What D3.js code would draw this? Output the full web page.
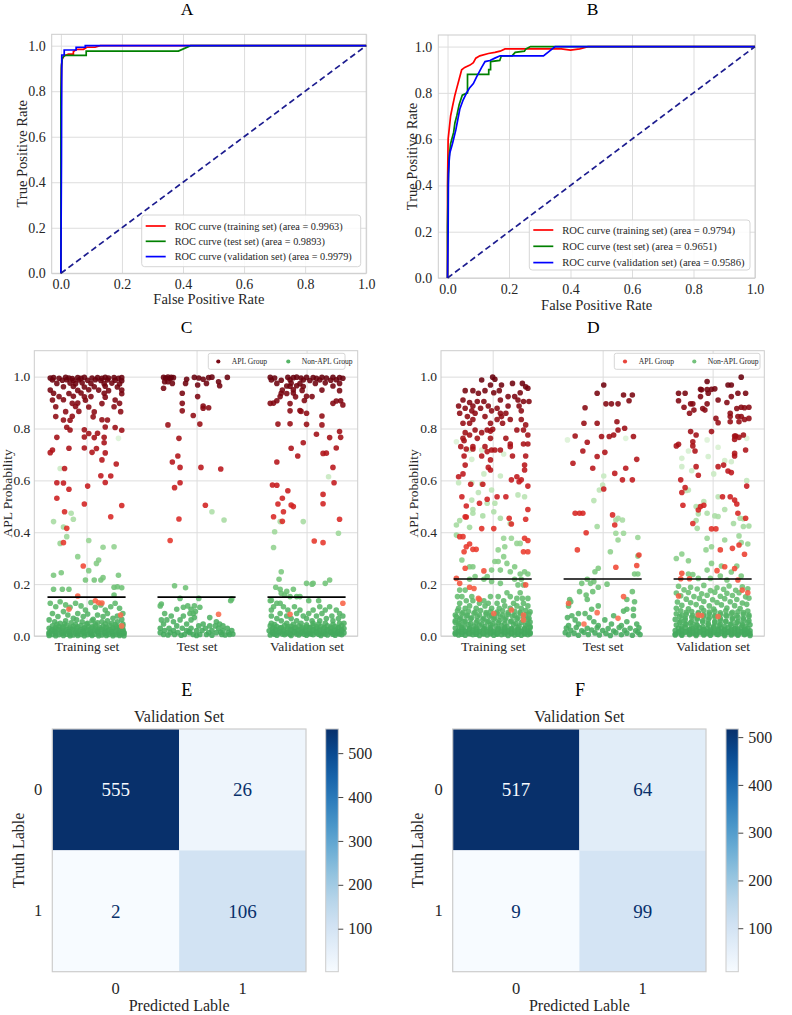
<!DOCTYPE html>
<html>
<head>
<meta charset="utf-8">
<script src="https://cdn.jsdelivr.net/npm/d3@7"></script>
<style>
  body { margin: 0; background: #fff; }
  text { font-family: "Liberation Serif", "Times New Roman", serif; }
</style>
</head>
<body>
<svg id="fig" width="792" height="1015"></svg>
<script>
// ---------- ROC data ----------
const rocTicks = [0, 0.2, 0.4, 0.6, 0.8, 1.0];
const rocColors = ["#ff0000", "#008000", "#0000ff"];
const rocLegendA = ["ROC curve (training set) (area = 0.9963)", "ROC curve (test set) (area = 0.9893)", "ROC curve (validation set) (area = 0.9979)"];
const rocLegendB = ["ROC curve (training set) (area = 0.9794)", "ROC curve (test set) (area = 0.9651)", "ROC curve (validation set) (area = 0.9586)"];

const rocATrain = [[0,0],[0,0.57],[0.002,0.9],[0.004,0.94],[0.01,0.955],[0.025,0.963],[0.041,0.963],[0.041,0.974],[0.052,0.984],[0.074,0.984],[0.085,0.993],[0.112,0.993],[0.129,1.0],[1,1]];
const rocATest = [[0,0],[0,0.77],[0.002,0.915],[0.005,0.945],[0.012,0.957],[0.083,0.957],[0.083,0.976],[0.385,0.976],[0.425,1.0],[1,1]];
const rocAValid = [[0,0],[0.002,0.5],[0.003,0.959],[0.011,0.959],[0.011,0.981],[0.05,0.981],[0.05,0.993],[0.08,0.993],[0.08,1.0],[1,1]];

const rocBTrain = [[0,0],[0,0.4],[0.002,0.6],[0.01,0.7],[0.016,0.74],[0.024,0.79],[0.029,0.815],[0.038,0.86],[0.046,0.9],[0.056,0.91],[0.073,0.92],[0.084,0.93],[0.092,0.95],[0.105,0.96],[0.133,0.97],[0.154,0.975],[0.171,0.98],[0.187,0.99],[0.37,0.99],[0.4,0.985],[0.43,0.99],[0.457,1.0],[1,1]];
const rocBTest = [[0,0],[0,0.22],[0.002,0.4],[0.005,0.52],[0.01,0.58],[0.02,0.63],[0.024,0.67],[0.03,0.7],[0.038,0.75],[0.048,0.79],[0.065,0.8],[0.065,0.88],[0.134,0.88],[0.134,0.9],[0.14,0.9],[0.14,0.935],[0.17,0.94],[0.175,0.96],[0.21,0.96],[0.22,0.975],[0.25,0.98],[0.255,0.99],[0.27,1.0],[1,1]];
const rocBValid = [[0,0],[0.002,0.2],[0.003,0.45],[0.005,0.5],[0.0075,0.54],[0.016,0.58],[0.027,0.64],[0.04,0.73],[0.051,0.77],[0.062,0.8],[0.071,0.82],[0.084,0.84],[0.095,0.87],[0.111,0.91],[0.122,0.935],[0.138,0.94],[0.154,0.95],[0.171,0.96],[0.312,0.96],[0.35,1.0],[1,1]];

// ---------- strip plot data: [jitter, probability] ----------
const stripSets = ["Training set", "Test set", "Validation set"];
const stripTicks = [0, 0.2, 0.4, 0.6, 0.8, 1.0];
const thresholdC = 0.15;
const thresholdD = 0.22;

const cTrainApl = [[-0.33,0.995],[-0.30,0.996],[-0.25,0.994],[-0.19,0.997],[-0.16,0.995],[-0.13,0.993],[-0.08,0.996],[-0.05,0.994],[-0.02,0.997],[0.05,0.995],[0.10,0.996],[0.14,0.994],[0.17,0.997],[0.20,0.995],[0.25,0.996],[0.29,0.994],[0.32,0.996],
[-0.31,0.987],[-0.22,0.986],[-0.18,0.988],[-0.12,0.985],[-0.07,0.987],[0.01,0.986],[0.08,0.988],[0.13,0.985],[0.19,0.987],[0.26,0.986],[0.32,0.984],
[-0.27,0.974],[-0.15,0.975],[-0.10,0.973],[-0.04,0.976],[0.04,0.974],[0.16,0.973],[0.23,0.975],[0.30,0.972],
[-0.21,0.961],[-0.12,0.962],[-0.02,0.96],[0.07,0.961],[0.17,0.963],[0.28,0.96],
[-0.33,0.948],[-0.08,0.947],[0.02,0.949],[0.11,0.948],[0.20,0.946],[0.32,0.948],
[-0.30,0.936],[-0.16,0.935],[-0.05,0.937],[0.16,0.936],[0.32,0.934],
[-0.25,0.923],[-0.12,0.924],[-0.02,0.922],[0.04,0.923],[0.17,0.921],
[-0.31,0.91],[-0.21,0.911],[-0.01,0.909],[0.26,0.91],
[-0.13,0.897],[-0.08,0.898],[0.14,0.896],[0.30,0.897],
[-0.28,0.884],[-0.10,0.885],[0.02,0.883],[0.25,0.884],
[-0.19,0.865],[-0.07,0.866],[0.07,0.864],[0.31,0.865],
[-0.28,0.846],[-0.13,0.847],[0.06,0.845],
[-0.21,0.833],[-0.15,0.832],[0.14,0.834],[0.19,0.833],
[-0.18,0.805],[0.17,0.806],[0.26,0.804],
[-0.15,0.794],[-0.02,0.795],[0.32,0.793],
[0.02,0.781],[0.10,0.782],
[-0.27,0.766],[-0.02,0.767],[0.07,0.765],[0.16,0.766],
[0.16,0.745],[-0.16,0.724],[-0.02,0.725],[0.09,0.723],[-0.31,0.717],[-0.33,0.707],[0.05,0.708],[0.17,0.706],
[0.14,0.679],[0.27,0.663],[-0.20,0.646],[0.13,0.618],[0.22,0.617],[-0.27,0.591],[-0.21,0.59],[0.17,0.592],[0.01,0.578],[-0.16,0.566],[-0.27,0.531],[-0.02,0.509],[0.32,0.503],[-0.20,0.479],[0.22,0.46],[-0.18,0.415],[-0.21,0.36],[-0.03,0.27],[-0.08,0.154],[0.08,0.136],[0.11,0.128],[0.14,0.127],[-0.16,0.103],[0.31,0.081],[0.32,0.039]];

const cTrainNon = [[0.29,0.762],[-0.24,0.646],[-0.14,0.473],[-0.12,0.45],[-0.30,0.441],[-0.21,0.42],[-0.18,0.383],[0.02,0.368],[-0.24,0.357],[0.25,0.344],[0.15,0.342],[-0.08,0.306],[0.11,0.293],[0.09,0.28],[0.02,0.252],[-0.23,0.244],[-0.30,0.234],[0.29,0.234],[0.15,0.225],[-0.01,0.216],[0.07,0.216],[0.13,0.216],[0.25,0.188],[0.28,0.19],[0.32,0.186],[-0.30,0.18],[-0.22,0.18],[-0.16,0.18],[0.25,0.158],
[-0.33,0.126],[-0.28,0.113],[-0.24,0.132],[-0.19,0.12],[-0.15,0.111],[-0.10,0.126],[-0.05,0.116],[-0.01,0.1],[0.04,0.129],[0.08,0.111],[0.13,0.12],[0.17,0.1],[0.22,0.113],[0.26,0.126],[0.30,0.107],[0.33,0.087],
[-0.31,0.087],[-0.26,0.075],[-0.21,0.094],[-0.17,0.081],[-0.12,0.068],[-0.08,0.087],[-0.03,0.075],[0.01,0.085],[0.06,0.064],[0.10,0.081],[0.15,0.075],[0.19,0.087],[0.24,0.068],[0.28,0.077],
[-0.34,0.062],[-0.29,0.055],[-0.24,0.049],[-0.19,0.059],[-0.14,0.051],[-0.09,0.062],[-0.04,0.055],[0.01,0.049],[0.05,0.059],[0.10,0.051],[0.14,0.055],[0.19,0.059],[0.23,0.049],[0.28,0.055],[0.32,0.064],
[-0.27,0.045],[-0.2,0.047],[-0.1,0.044],[0.0,0.046],[0.08,0.045],[0.17,0.047],[0.26,0.044],[0.33,0.046],
[-0.31,0.039],[-0.25,0.036],[-0.18,0.041],[-0.12,0.037],[-0.05,0.04],[0.02,0.035],[0.08,0.039],[0.15,0.037],[0.21,0.041],[0.27,0.036],[0.33,0.039],
[-0.28,0.034],[-0.21,0.035],[-0.15,0.033],[-0.08,0.035],[-0.02,0.032],[0.05,0.035],[0.12,0.033],[0.18,0.034],[0.24,0.032],[0.30,0.035],
[-0.34,0.03],[-0.28,0.028],[-0.22,0.031],[-0.15,0.027],[-0.09,0.03],[-0.02,0.029],[0.05,0.031],[0.11,0.027],[0.17,0.03],[0.24,0.028],[0.30,0.031],
[-0.31,0.025],[-0.25,0.026],[-0.18,0.024],[-0.12,0.026],[-0.05,0.025],[0.02,0.024],[0.08,0.026],[0.14,0.025],[0.21,0.024],[0.27,0.026],[0.33,0.025],
[-0.32,0.021],[-0.26,0.023],[-0.19,0.02],[-0.13,0.022],[-0.06,0.019],[0.0,0.022],[0.07,0.02],[0.13,0.023],[0.2,0.021],[0.26,0.019],[0.33,0.022],
[-0.29,0.017],[-0.22,0.018],[-0.16,0.016],[-0.09,0.018],[-0.03,0.017],[0.04,0.016],[0.1,0.018],[0.17,0.017],[0.23,0.016],[0.3,0.018],
[-0.34,0.013],[-0.29,0.015],[-0.23,0.012],[-0.16,0.014],[-0.1,0.011],[-0.03,0.014],[0.03,0.012],[0.1,0.015],[0.16,0.012],[0.22,0.014],[0.29,0.011],[0.34,0.013],
[-0.34,0.009],[-0.28,0.009],[-0.21,0.01],[-0.15,0.008],[-0.08,0.009],[-0.02,0.01],[0.04,0.008],[0.11,0.009],[0.17,0.01],[0.24,0.008],[0.3,0.009],[0.34,0.01],
[-0.31,0.006],[-0.25,0.005],[-0.18,0.007],[-0.12,0.004],[-0.05,0.006],[0.01,0.005],[0.07,0.007],[0.14,0.004],[0.2,0.006],[0.27,0.005],[0.32,0.007],
[-0.34,0.002],[-0.28,0.001],[-0.21,0.002],[-0.15,0.001],[-0.08,0.002],[-0.02,0.001],[0.05,0.002],[0.11,0.001],[0.18,0.002],[0.24,0.001],[0.3,0.002],[0.34,0.001]];

const cTestApl = [[-0.30,0.997],[-0.28,0.995],[-0.26,0.998],[-0.24,0.993],[-0.23,0.997],[-0.21,0.996],[-0.02,0.997],[0.02,0.995],[0.11,0.996],[0.14,0.998],[0.28,0.997],
[-0.09,0.99],[0.06,0.99],[-0.29,0.98],[-0.26,0.98],[0.20,0.98],[-0.22,0.974],[-0.10,0.974],[0.09,0.974],[0.01,0.968],[0.21,0.965],[-0.30,0.955],
[-0.13,0.936],[0.01,0.923],[-0.13,0.897],[0.06,0.887],[0.11,0.88],[0.06,0.878],[-0.13,0.868],[-0.03,0.85],[0.03,0.817],[-0.26,0.814],[-0.16,0.762],[-0.17,0.694],[-0.22,0.671],[-0.15,0.65],[0.04,0.65],[0.22,0.644],[-0.15,0.591],[-0.20,0.572],[0.08,0.504],[-0.16,0.451],[-0.24,0.368],[0.20,0.084]];

const cTestNon = [[0.14,0.479],[0.25,0.447],[-0.20,0.194],[-0.10,0.186],[-0.15,0.145],[0.02,0.145],[0.32,0.143],[0.31,0.136],[-0.32,0.123],[-0.33,0.116],[-0.08,0.116],[-0.02,0.116],[-0.12,0.111],[0.03,0.111],[-0.18,0.103],[-0.05,0.103],[-0.01,0.094],[-0.29,0.087],[-0.06,0.087],[-0.03,0.087],[-0.23,0.077],[-0.12,0.077],[-0.02,0.071],[0.12,0.071],[-0.32,0.062],[-0.27,0.062],[-0.15,0.062],[-0.05,0.062],[-0.21,0.055],[0.18,0.055],[-0.30,0.046],[-0.09,0.046],[0.06,0.046],[0.21,0.046],[-0.18,0.039],[0.02,0.039],[0.12,0.039],[0.17,0.039],[0.24,0.039],
[-0.33,0.03],[-0.25,0.03],[-0.13,0.03],[-0.05,0.03],[0.08,0.03],[0.20,0.03],[0.28,0.03],[-0.29,0.021],[-0.21,0.021],[-0.09,0.021],[0.0,0.021],[0.05,0.021],[0.14,0.021],[0.24,0.021],[0.32,0.021],[-0.07,0.016],[0.22,0.014],
[-0.33,0.013],[-0.24,0.013],[-0.17,0.013],[-0.06,0.013],[0.11,0.013],[0.18,0.013],[0.29,0.013],[0.33,0.008],[-0.30,0.006],[-0.20,0.006],[-0.11,0.006],[-0.03,0.006],[0.03,0.006],[0.09,0.006],[0.23,0.006],[0.30,0.006],[-0.26,0.004],[-0.14,0.003],[0.0,0.002],[0.14,0.003],[0.26,0.004]];

const cValApl = [[-0.33,0.997],[-0.29,0.995],[-0.17,0.997],[-0.12,0.996],[-0.09,0.998],[-0.05,0.995],[0,0.997],[0.06,0.996],[0.09,0.994],[0.14,0.997],[0.18,0.995],[0.24,0.997],[0.30,0.996],[0.33,0.994],
[-0.32,0.987],[-0.23,0.986],[-0.15,0.988],[-0.03,0.987],[0.03,0.985],[0.12,0.987],[0.22,0.986],[0.27,0.988],
[-0.27,0.974],[-0.14,0.975],[-0.06,0.973],[0.08,0.974],[0.17,0.976],[0.30,0.974],
[-0.18,0.964],[-0.15,0.963],[-0.09,0.965],[-0.03,0.962],[0.24,0.964],
[-0.22,0.948],[-0.12,0.949],[-0.04,0.947],[0.14,0.948],[0.30,0.946],
[-0.23,0.936],[-0.18,0.935],[-0.12,0.937],[-0.24,0.923],[-0.10,0.922],[0,0.924],[0.05,0.923],
[-0.27,0.907],[-0.02,0.908],[0.27,0.906],[0.31,0.907],[-0.33,0.897],[-0.30,0.898],[-0.15,0.896],[0.24,0.897],[0.33,0.891],
[-0.15,0.868],[-0.06,0.869],[-0.05,0.866],[0,0.859],[0.14,0.848],[-0.26,0.817],[-0.15,0.818],[0,0.816],[0.14,0.814],[0.30,0.788],[0.09,0.778],[0.21,0.765],[0.31,0.766],[-0.03,0.745],[-0.14,0.724],[0.27,0.725],[0.15,0.704],[0.18,0.705],[-0.08,0.694],[-0.27,0.671],[0.24,0.65],[0.25,0.591],[-0.31,0.582],[-0.27,0.581],[-0.17,0.56],[0.15,0.546],[-0.22,0.531],[-0.26,0.509],[0.15,0.51],[-0.14,0.505],[-0.12,0.499],[-0.21,0.479],[-0.30,0.46],[0.30,0.45],[-0.22,0.442],[0.07,0.366],[0.15,0.36],[0.33,0.126],[-0.15,0.084]];

const cValNon = [[0.20,0.614],[-0.24,0.441],[-0.03,0.441],[-0.29,0.402],[0.29,0.396],[-0.30,0.341],[-0.23,0.248],[-0.25,0.219],[0.21,0.216],[0,0.203],[0.06,0.203],[0.17,0.203],[0.05,0.2],[-0.28,0.188],[-0.24,0.18],[-0.12,0.18],[-0.18,0.172],[-0.23,0.165],[-0.20,0.158],[-0.15,0.152],[-0.09,0.152],[-0.06,0.152],
[-0.33,0.136],[-0.32,0.138],[0.11,0.136],[0.02,0.136],[-0.27,0.126],[-0.24,0.126],[-0.30,0.113],[-0.21,0.113],[-0.11,0.113],[0.12,0.113],[0.21,0.113],[-0.32,0.10],[-0.17,0.10],[-0.06,0.10],[0.06,0.10],[0.17,0.10],[0.27,0.10],[-0.24,0.087],[-0.09,0.087],[0.02,0.087],[0.14,0.087],[0.30,0.087],[-0.32,0.077],[-0.18,0.077],[-0.03,0.077],[0.09,0.077],[0.23,0.077],[0.33,0.077],[-0.27,0.067],[-0.14,0.067],[0,0.067],[0.18,0.067],[0.29,0.067],[-0.23,0.059],[-0.09,0.059],[0.05,0.059],[0.12,0.059],[0.24,0.059],[-0.32,0.049],[-0.18,0.049],[-0.05,0.049],[0.06,0.049],[0.17,0.049],[0.30,0.049],[0.34,0.049],
[-0.29,0.044],[-0.12,0.045],[0.0,0.043],[0.11,0.046],[0.24,0.044],
[-0.33,0.039],[-0.27,0.036],[-0.2,0.04],[-0.14,0.037],[-0.07,0.039],[0.0,0.035],[0.06,0.04],[0.13,0.037],[0.19,0.039],[0.26,0.036],[0.32,0.04],
[-0.3,0.034],[-0.23,0.033],[-0.17,0.035],[-0.1,0.033],[-0.04,0.034],[0.03,0.033],[0.09,0.035],[0.16,0.033],[0.22,0.034],[0.29,0.033],
[-0.31,0.029],[-0.24,0.031],[-0.17,0.028],[-0.11,0.03],[-0.04,0.028],[0.03,0.031],[0.09,0.029],[0.16,0.03],[0.22,0.028],[0.29,0.031],[0.34,0.029],
[-0.28,0.025],[-0.21,0.024],[-0.14,0.026],[-0.07,0.024],[-0.01,0.025],[0.06,0.024],[0.12,0.026],[0.19,0.024],[0.26,0.025],[0.32,0.024],
[-0.34,0.02],[-0.28,0.021],[-0.21,0.019],[-0.14,0.022],[-0.08,0.02],[-0.01,0.018],[0.06,0.021],[0.12,0.019],[0.19,0.022],[0.25,0.02],[0.32,0.019],
[-0.31,0.015],[-0.24,0.016],[-0.17,0.014],[-0.11,0.016],[-0.04,0.015],[0.03,0.014],[0.09,0.016],[0.16,0.015],[0.22,0.014],[0.29,0.016],
[-0.31,0.011],[-0.25,0.012],[-0.18,0.01],[-0.11,0.013],[-0.05,0.011],[0.02,0.01],[0.09,0.012],[0.15,0.01],[0.22,0.013],[0.28,0.011],[0.34,0.012],
[-0.29,0.007],[-0.22,0.008],[-0.15,0.007],[-0.09,0.008],[-0.02,0.007],[0.04,0.008],[0.11,0.007],[0.17,0.008],[0.24,0.007],[0.3,0.008],
[-0.33,0.004],[-0.27,0.003],[-0.2,0.005],[-0.14,0.002],[-0.07,0.004],[0.0,0.003],[0.06,0.005],[0.13,0.002],[0.19,0.004],[0.26,0.003],[0.32,0.005]];

const dTrainApl = [[0,0.998],[0.02,0.99],[-0.10,0.987],[0.18,0.974],[0.27,0.974],[0.08,0.968],[-0.02,0.968],[0.30,0.961],[0.32,0.955],
[-0.25,0.946],[-0.18,0.946],[-0.07,0.946],[0.06,0.946],[0.01,0.938],[0.25,0.938],[-0.13,0.936],[0.14,0.923],[0.20,0.923],
[-0.27,0.91],[0.07,0.91],[0.23,0.91],[-0.14,0.904],[-0.08,0.904],[0.28,0.904],[0.33,0.904],[-0.21,0.90],
[-0.31,0.887],[-0.18,0.887],[-0.04,0.887],[0.14,0.887],[0.24,0.887],[-0.25,0.878],[-0.11,0.878],[0.04,0.878],[-0.19,0.868],[-0.01,0.868],[0.26,0.868],
[-0.30,0.859],[-0.16,0.859],[0.07,0.859],[0.12,0.859],[-0.23,0.846],[-0.07,0.846],[0.08,0.846],[-0.18,0.835],[0.04,0.835],[0.16,0.835],[0.26,0.835],
[-0.27,0.82],[-0.21,0.82],[-0.02,0.82],[0.09,0.82],[0.30,0.814],[-0.16,0.794],[-0.05,0.794],[-0.02,0.79],[0,0.797],[0.22,0.794],[0.28,0.794],[-0.10,0.784],[-0.25,0.784],
[-0.21,0.775],[0.32,0.775],[-0.27,0.762],[-0.14,0.762],[-0.02,0.762],[0.12,0.762],[-0.26,0.753],[0.16,0.74],[0.28,0.74],[0.32,0.74],
[-0.29,0.73],[-0.18,0.73],[-0.07,0.73],[0.16,0.73],[-0.24,0.721],[-0.18,0.721],[-0.01,0.717],[0.02,0.717],[0.07,0.717],[-0.05,0.711],
[-0.26,0.694],[-0.10,0.694],[0.18,0.694],[0.30,0.694],[-0.02,0.679],[-0.25,0.659],[0.29,0.659],[-0.04,0.65],[-0.02,0.64],[0.29,0.64],[-0.27,0.625],[-0.31,0.614],[0.22,0.614],[0.17,0.602],[0.26,0.602],[0.24,0.595],[-0.20,0.585],[-0.09,0.585],[0.32,0.578],
[-0.28,0.537],[0.04,0.537],[0.12,0.537],[-0.05,0.527],[-0.12,0.512],[-0.24,0.501],[0.32,0.488],[-0.25,0.46],[-0.24,0.459],[0.15,0.454],[0.30,0.45],[0.17,0.432],[-0.10,0.414],[0.01,0.414],
[-0.30,0.383],[-0.27,0.383],[0.29,0.377],[0.32,0.368],[-0.21,0.355],[-0.24,0.344],[-0.15,0.334],[-0.18,0.334],[0.28,0.325],[0.32,0.325],[-0.26,0.325],
[-0.25,0.261],[-0.08,0.251],[-0.33,0.222],[-0.30,0.203],[0.30,0.197],[-0.21,0.188],[-0.17,0.183],[-0.13,0.145],[-0.12,0.141],[0.17,0.1],[0.01,0.087],[0.28,0.081],[0.28,0.062]];

const dTrainNon = [[-0.33,0.749],[-0.21,0.717],[-0.10,0.717],[0.10,0.702],[-0.19,0.681],[-0.08,0.625],[0.07,0.617],[-0.31,0.591],[-0.19,0.591],[-0.10,0.586],[-0.01,0.563],[-0.13,0.553],[0.23,0.544],[0.29,0.537],[-0.19,0.524],[-0.05,0.512],[0.02,0.512],[-0.18,0.488],[0.01,0.479],[-0.18,0.473],[-0.09,0.463],[0.07,0.454],[-0.30,0.445],[0.16,0.434],[-0.33,0.428],[-0.21,0.419],
[-0.33,0.389],[0.10,0.377],[0.17,0.377],[0.22,0.357],[0.25,0.357],[0.11,0.344],[0.05,0.332],[0.10,0.306],[-0.28,0.293],[0.02,0.287],[0.05,0.287],[0.13,0.28],[-0.21,0.267],[-0.18,0.267],[0.20,0.267],[-0.01,0.254],[0.07,0.254],[0.16,0.248],[0.29,0.248],[0.32,0.239],[0.25,0.239],[-0.16,0.229],[-0.05,0.229],[-0.21,0.219],[-0.08,0.219],[0.20,0.219],[0.26,0.219],[-0.01,0.21],[0.07,0.203],[0.23,0.197],[0.28,0.197],
[-0.30,0.177],[-0.25,0.177],[0.13,0.167],[0.25,0.167],[-0.32,0.152],[-0.28,0.152],[-0.19,0.152],[-0.02,0.152],[0.05,0.152],[0.16,0.152],[0.27,0.145],[0.32,0.145],[0.22,0.145],[-0.24,0.136],[-0.18,0.136],[-0.08,0.136],[0.10,0.136],
[-0.30,0.126],[-0.12,0.126],[-0.04,0.126],[0.04,0.126],[0.19,0.126],[0.28,0.126],[-0.21,0.116],[-0.07,0.116],[0.11,0.116],[0.22,0.116],[0.32,0.116],[-0.31,0.107],[-0.25,0.107],[-0.15,0.107],[-0.01,0.107],[0.06,0.107],[0.16,0.107],[0.26,0.107],
[-0.32,0.097],[-0.22,0.095],[-0.11,0.098],[-0.02,0.094],[0.09,0.097],[0.2,0.095],[0.3,0.098],
[-0.27,0.091],[-0.16,0.092],[-0.06,0.09],[0.04,0.092],[0.14,0.09],[0.25,0.091],[0.34,0.093],
[-0.28,0.086],[-0.17,0.088],[-0.06,0.085],[0.04,0.087],[0.14,0.084],[0.25,0.088],[0.33,0.085],
[-0.34,0.081],[-0.23,0.08],[-0.12,0.081],[-0.01,0.079],[0.09,0.081],[0.2,0.08],[0.3,0.082],
[-0.33,0.075],[-0.24,0.077],[-0.14,0.074],[-0.03,0.076],[0.07,0.073],[0.18,0.077],[0.28,0.075],
[-0.29,0.069],[-0.19,0.07],[-0.08,0.068],[0.02,0.07],[0.12,0.069],[0.23,0.07],[0.33,0.068],
[-0.3,0.064],[-0.2,0.066],[-0.09,0.063],[0.01,0.065],[0.11,0.062],[0.22,0.066],[0.32,0.063],
[-0.34,0.059],[-0.25,0.058],[-0.14,0.059],[-0.04,0.057],[0.06,0.059],[0.17,0.058],[0.28,0.06],
[-0.34,0.053],[-0.26,0.055],[-0.15,0.052],[-0.05,0.054],[0.05,0.051],[0.16,0.055],[0.26,0.052],[0.34,0.054],
[-0.3,0.047],[-0.2,0.048],[-0.1,0.046],[0.0,0.048],[0.11,0.047],[0.21,0.048],[0.32,0.046],
[-0.31,0.042],[-0.22,0.044],[-0.12,0.041],[-0.02,0.043],[0.08,0.04],[0.19,0.044],[0.3,0.041],
[-0.26,0.037],[-0.17,0.038],[-0.07,0.036],[0.03,0.038],[0.13,0.037],[0.24,0.038],[0.34,0.036],
[-0.34,0.031],[-0.28,0.033],[-0.21,0.03],[-0.15,0.032],[-0.08,0.029],[-0.02,0.033],[0.05,0.03],[0.11,0.032],[0.17,0.029],[0.23,0.033],[0.29,0.03],[0.34,0.032],
[-0.28,0.026],[-0.21,0.027],[-0.15,0.025],[-0.08,0.027],[-0.02,0.026],[0.05,0.025],[0.11,0.027],[0.17,0.026],[0.23,0.025],[0.29,0.027],
[-0.31,0.021],[-0.25,0.019],[-0.18,0.022],[-0.12,0.02],[-0.05,0.023],[0.01,0.019],[0.08,0.022],[0.14,0.02],[0.2,0.023],[0.26,0.019],[0.32,0.022],
[-0.31,0.016],[-0.25,0.017],[-0.18,0.015],[-0.12,0.017],[-0.05,0.016],[0.01,0.015],[0.08,0.017],[0.14,0.016],[0.2,0.015],[0.26,0.017],[0.32,0.016],
[-0.34,0.012],[-0.28,0.014],[-0.22,0.011],[-0.15,0.013],[-0.09,0.01],[-0.02,0.013],[0.04,0.011],[0.11,0.014],[0.17,0.01],[0.23,0.013],[0.29,0.011],[0.34,0.013],
[-0.34,0.008],[-0.28,0.007],[-0.21,0.009],[-0.15,0.007],[-0.08,0.008],[-0.02,0.009],[0.04,0.007],[0.11,0.008],[0.17,0.009],[0.23,0.007],[0.29,0.008],[0.34,0.009],
[-0.31,0.004],[-0.25,0.003],[-0.18,0.005],[-0.12,0.002],[-0.05,0.004],[0.01,0.003],[0.08,0.005],[0.14,0.002],[0.2,0.004],[0.26,0.003],[0.32,0.005]];

const dTestApl = [[0.01,0.968],[-0.05,0.936],[0.19,0.929],[0.27,0.929],[0.24,0.907],[0.03,0.895],[0.08,0.895],[0.14,0.895],[-0.16,0.88],[0.13,0.826],[-0.17,0.82],[-0.05,0.82],[0.20,0.801],[0.14,0.794],[0.10,0.775],[-0.25,0.771],[-0.01,0.769],[0.06,0.769],[0.28,0.769],[-0.14,0.747],[-0.18,0.713],[0.02,0.708],[-0.05,0.692],[0.31,0.681],[-0.27,0.666],[-0.09,0.647],[0.21,0.647],[0.11,0.627],[0.18,0.602],[0.27,0.602],[0.01,0.567],[-0.25,0.473],[-0.21,0.473],[-0.18,0.473],[0.09,0.467],[0.11,0.428],[-0.15,0.398],[-0.23,0.332],[0.33,0.312],[0.31,0.272],[0.12,0.265],[0.19,0.152],[-0.31,0.126],[0.14,0.068],[-0.17,0.046],[-0.05,0.09]];

const dTestNon = [[-0.32,0.756],[0.21,0.762],[0.01,0.617],[0.0,0.582],[-0.03,0.563],[-0.08,0.522],[0.14,0.454],[0.12,0.447],[0.18,0.447],[-0.05,0.422],[0.12,0.396],[0.19,0.396],[0.32,0.38],[0.14,0.37],[0.07,0.325],[0.32,0.308],[-0.04,0.261],[-0.07,0.248],[0.29,0.239],[0.32,0.239],[-0.14,0.219],[-0.08,0.21],[-0.11,0.203],[-0.19,0.203],[0.04,0.2],[-0.04,0.188],[-0.21,0.171],[-0.09,0.171],[0.27,0.171],[-0.15,0.158],[-0.14,0.141],[0.22,0.141],[-0.30,0.141],[-0.29,0.132],[0.29,0.132],[-0.31,0.116],[-0.04,0.116],[-0.10,0.103],[0.22,0.103],[0.28,0.103],[0.19,0.096],[-0.22,0.087],[-0.16,0.087],[-0.28,0.078],[0.10,0.078],[0.28,0.078],[-0.32,0.071],[-0.12,0.071],[0.02,0.062],[-0.25,0.062],[-0.08,0.055],[0.22,0.055],[-0.22,0.046],[0.08,0.046],[0.31,0.046],[-0.31,0.04],[-0.04,0.04],[0.17,0.04],
[-0.33,0.031],[-0.24,0.033],[-0.14,0.03],[-0.05,0.032],[0.05,0.029],[0.15,0.033],[0.25,0.03],[0.33,0.032],
[-0.29,0.022],[-0.19,0.02],[-0.1,0.023],[0.0,0.021],[0.1,0.019],[0.2,0.022],[0.3,0.02],
[-0.34,0.013],[-0.26,0.011],[-0.17,0.014],[-0.07,0.012],[0.03,0.01],[0.12,0.013],[0.22,0.011],[0.32,0.014],
[-0.31,0.005],[-0.22,0.003],[-0.13,0.006],[-0.03,0.004],[0.07,0.002],[0.17,0.005],[0.27,0.003],[0.34,0.006]];

const dValApl = [[0.26,0.998],[-0.05,0.981],[0.14,0.968],[0.17,0.968],[-0.11,0.951],[-0.10,0.949],[-0.01,0.951],[0.02,0.953],[-0.05,0.95],[-0.31,0.936],[-0.25,0.936],[-0.04,0.936],[0.23,0.936],[0.30,0.936],[-0.11,0.923],[0.17,0.923],[0.05,0.91],[-0.31,0.907],[0.13,0.9],[-0.20,0.895],[-0.18,0.895],[-0.05,0.895],[-0.26,0.882],[0.26,0.882],[0.33,0.882],[0.29,0.88],[-0.09,0.877],[0.22,0.877],[-0.17,0.871],[-0.07,0.871],[-0.21,0.859],[0.16,0.859],[0.16,0.846],[0.23,0.846],[0.26,0.846],[0.03,0.839],[0.33,0.839],[0.29,0.835],[0.16,0.826],[0.24,0.826],[0.05,0.822],
[-0.20,0.788],[-0.01,0.788],[-0.15,0.775],[0.28,0.775],[0.20,0.771],[0.21,0.771],[0.24,0.766],[0.20,0.758],[-0.18,0.749],[-0.31,0.739],[-0.33,0.733],[-0.18,0.733],[0.30,0.717],[-0.16,0.713],[0.20,0.704],[0.20,0.694],[0.10,0.659],[-0.15,0.653],[0.05,0.653],[0.14,0.636],[0.17,0.63],[-0.13,0.62],[-0.29,0.602],[0.31,0.578],[-0.25,0.572],[-0.28,0.553],[0.09,0.537],[0.16,0.537],[0.20,0.524],[0.22,0.509],[-0.27,0.504],[-0.08,0.504],[-0.11,0.499],[-0.13,0.486],[0.23,0.473],[0.30,0.454],[-0.18,0.434],[-0.01,0.413],[0.03,0.413],
[0.24,0.351],[0.07,0.332],[0.18,0.338],[0.29,0.315],[0.11,0.267],[0.20,0.26],[0.04,0.252],[-0.28,0.242],[-0.29,0.221],[-0.21,0.221],[0.23,0.216],[0.27,0.177],[0.32,0.167],[-0.31,0.154],[-0.13,0.081],[-0.10,0.079],[0.05,0.075]];

const dValNon = [[0.31,0.762],[-0.05,0.756],[0.05,0.728],[-0.22,0.713],[-0.04,0.692],[-0.28,0.685],[0.11,0.676],[0.17,0.672],[-0.28,0.653],[-0.19,0.637],[0.01,0.625],[0.31,0.599],[-0.22,0.563],[-0.24,0.561],[0.05,0.537],[-0.08,0.518],[-0.15,0.499],[-0.12,0.497],[0.11,0.488],[-0.05,0.473],[-0.13,0.471],[0.02,0.463],[0.05,0.461],[0.25,0.454],[0.28,0.452],[-0.15,0.445],[0.19,0.434],[0.33,0.424],[0.28,0.422],[-0.14,0.415],[0.24,0.386],[-0.05,0.377],[0.11,0.37],[0.26,0.36],[0.32,0.355],[-0.01,0.344],[-0.06,0.332],[-0.28,0.316],[-0.33,0.299],[-0.22,0.29],[-0.01,0.28],[0.08,0.27],[0.22,0.27],[-0.05,0.254],[0.17,0.247],[-0.22,0.239],[-0.18,0.237],[0.07,0.231],[0.26,0.231],[-0.13,0.222],[-0.02,0.222],[0.13,0.216],
[-0.31,0.192],[-0.2,0.188],[-0.08,0.195],[0.04,0.186],[0.15,0.193],[0.27,0.19],
[-0.26,0.178],[-0.14,0.181],[-0.02,0.175],[0.1,0.18],[0.21,0.176],[0.32,0.182],
[-0.33,0.166],[-0.22,0.168],[-0.1,0.163],[0.02,0.169],[0.13,0.165],[0.24,0.167],
[-0.29,0.155],[-0.17,0.152],[-0.05,0.157],[0.07,0.153],[0.18,0.156],[0.3,0.151],
[-0.24,0.142],[-0.12,0.145],[0.0,0.14],[0.11,0.144],[0.22,0.141],[0.33,0.146],
[-0.32,0.131],[-0.2,0.128],[-0.08,0.133],[0.04,0.129],[0.16,0.132],[0.27,0.127],
[-0.28,0.118],[-0.15,0.121],[-0.03,0.116],[0.08,0.12],[0.2,0.117],[0.31,0.122],
[-0.33,0.107],[-0.22,0.105],[-0.1,0.109],[0.01,0.104],[0.13,0.108],[0.25,0.106],
[-0.29,0.097],[-0.19,0.094],[-0.08,0.098],[0.02,0.095],[0.12,0.097],[0.23,0.093],[0.32,0.096],
[-0.24,0.091],[-0.13,0.09],[-0.03,0.092],[0.07,0.089],[0.18,0.091],[0.28,0.09],
[-0.33,0.086],[-0.24,0.084],[-0.13,0.087],[-0.03,0.085],[0.07,0.083],[0.17,0.087],[0.28,0.084],
[-0.28,0.08],[-0.18,0.079],[-0.08,0.081],[0.02,0.078],[0.12,0.08],[0.22,0.079],[0.33,0.081],
[-0.3,0.075],[-0.19,0.073],[-0.08,0.076],[0.02,0.074],[0.13,0.077],[0.23,0.072],[0.33,0.075],
[-0.25,0.069],[-0.14,0.068],[-0.03,0.07],[0.07,0.067],[0.18,0.069],[0.28,0.068],
[-0.34,0.064],[-0.25,0.062],[-0.14,0.065],[-0.04,0.063],[0.07,0.061],[0.18,0.065],[0.28,0.062],
[-0.29,0.058],[-0.19,0.057],[-0.09,0.059],[0.02,0.056],[0.12,0.058],[0.23,0.057],[0.33,0.059],
[-0.3,0.053],[-0.2,0.051],[-0.09,0.054],[0.02,0.052],[0.12,0.055],[0.22,0.051],[0.32,0.053],
[-0.25,0.047],[-0.15,0.046],[-0.04,0.048],[0.07,0.046],[0.17,0.047],[0.27,0.046],
[-0.33,0.042],[-0.24,0.044],[-0.14,0.041],[-0.04,0.043],[0.06,0.04],[0.16,0.044],[0.27,0.041],[0.34,0.043],
[-0.28,0.036],[-0.19,0.037],[-0.09,0.035],[0.01,0.037],[0.11,0.036],[0.21,0.037],[0.3,0.035],
[-0.31,0.031],[-0.25,0.033],[-0.18,0.03],[-0.12,0.032],[-0.05,0.029],[0.01,0.033],[0.08,0.03],[0.14,0.032],[0.2,0.029],[0.26,0.033],[0.32,0.03],
[-0.28,0.026],[-0.21,0.025],[-0.15,0.027],[-0.08,0.025],[-0.02,0.026],[0.05,0.027],[0.11,0.025],[0.17,0.026],[0.23,0.027],[0.29,0.025],
[-0.34,0.021],[-0.28,0.019],[-0.21,0.022],[-0.15,0.02],[-0.08,0.023],[-0.02,0.019],[0.05,0.022],[0.11,0.02],[0.17,0.023],[0.23,0.019],[0.29,0.022],[0.34,0.02],
[-0.31,0.016],[-0.24,0.017],[-0.18,0.015],[-0.11,0.017],[-0.05,0.016],[0.02,0.015],[0.08,0.017],[0.14,0.016],[0.2,0.015],[0.27,0.017],[0.32,0.016],
[-0.31,0.012],[-0.25,0.014],[-0.18,0.011],[-0.12,0.013],[-0.05,0.01],[0.01,0.013],[0.08,0.011],[0.14,0.014],[0.2,0.01],[0.26,0.013],[0.32,0.011],
[-0.34,0.008],[-0.28,0.007],[-0.21,0.009],[-0.15,0.007],[-0.08,0.008],[-0.02,0.009],[0.04,0.007],[0.11,0.008],[0.17,0.009],[0.23,0.007],[0.29,0.008],[0.34,0.009],
[-0.34,0.004],[-0.28,0.003],[-0.21,0.005],[-0.15,0.002],[-0.08,0.004],[-0.02,0.003],[0.05,0.005],[0.11,0.002],[0.17,0.004],[0.23,0.003],[0.29,0.005],[0.34,0.002]];

// ---------- confusion matrices ----------
const cmLabels = ["0", "1"];
const cmE = [[555, 26], [2, 106]];
const cmF = [[517, 64], [9, 99]];
const cbTicks = [100, 200, 300, 400, 500];

// ---------- drawing ----------
const svg = d3.select("#fig");
const SERIF = '"Liberation Serif", "Times New Roman", serif';
const GRID = "#dddddd", FRAME = "#cccccc", INK = "#262626";

svg.append("rect").attr("width", 792).attr("height", 1015).attr("fill", "#fff");
const defs = svg.append("defs");
defs.append("clipPath").attr("id", "clipB").append("rect").attr("x", 406).attr("y", 0).attr("width", 386).attr("height", 320);

function label(g, x, y, txt, size, rotate) {
    const t = g.append("text")
        .attr("text-anchor", "middle")
        .attr("font-family", SERIF)
        .attr("font-size", size)
        .attr("fill", INK)
        .text(txt);
    if (rotate) t.attr("transform", `translate(${x},${y}) rotate(-90)`);
    else t.attr("x", x).attr("y", y);
    return t;
}

function styleAxis(a, size) {
    a.select(".domain").remove();
    a.attr("font-family", SERIF).attr("font-size", size);
    a.selectAll("text").attr("fill", INK);
}

function drawRoc(cfg) {
    const g = svg.append("g").attr("clip-path", cfg.clip ? `url(#${cfg.clip})` : null);
    const x = d3.scaleLinear().domain([-0.03, 1.0]).range([cfg.left, cfg.right]);
    const y = d3.scaleLinear().domain([0, 1.05]).range([cfg.bottom, cfg.top]);
    const w = cfg.right - cfg.left, h = cfg.bottom - cfg.top;

    // grid
    g.append("g").attr("transform", `translate(0,${cfg.bottom})`)
        .call(d3.axisBottom(x).tickValues(rocTicks).tickSize(-h).tickFormat(""))
        .call(a => a.select(".domain").remove())
        .selectAll("line").attr("stroke", GRID);
    g.append("g").attr("transform", `translate(${cfg.left},0)`)
        .call(d3.axisLeft(y).tickValues(rocTicks).tickSize(-w).tickFormat(""))
        .call(a => a.select(".domain").remove())
        .selectAll("line").attr("stroke", GRID);

    g.append("rect").attr("x", cfg.left).attr("y", cfg.top).attr("width", w).attr("height", h)
        .attr("fill", "none").attr("stroke", FRAME);

    const line = d3.line().x(d => x(d[0])).y(d => y(d[1]));
    cfg.curves.forEach((c, i) => {
        g.append("path").attr("d", line(c)).attr("fill", "none")
            .attr("stroke", rocColors[i]).attr("stroke-width", 1.7);
    });
    g.append("path").attr("d", line([[0, 0], [1, 1]])).attr("fill", "none")
        .attr("stroke", "#1c1c8f").attr("stroke-width", 1.7).attr("stroke-dasharray", "6,3.5");

    // tick labels
    g.append("g").attr("transform", `translate(0,${cfg.bottom})`)
        .call(d3.axisBottom(x).tickValues(rocTicks).tickSize(0).tickPadding(6).tickFormat(d3.format(".1f")))
        .call(a => styleAxis(a, 14));
    g.append("g").attr("transform", `translate(${cfg.left},0)`)
        .call(d3.axisLeft(y).tickValues(rocTicks).tickSize(0).tickPadding(6).tickFormat(d3.format(".1f")))
        .call(a => styleAxis(a, 14));

    label(g, (cfg.left + cfg.right) / 2, cfg.xLabelY, "False Positive Rate", 14.5);
    label(g, cfg.yLabelX, (cfg.top + cfg.bottom) / 2, "True Positive Rate", 14.5, true);
    label(g, cfg.titleX, 15, cfg.title, 17.5).attr("fill", "#000");

    // legend
    const L = cfg.legend;
    g.append("rect").attr("x", L.x).attr("y", L.y).attr("width", L.w).attr("height", L.h).attr("rx", 3)
        .attr("fill", "#fff").attr("fill-opacity", 0.85).attr("stroke", "#d6d6d6");
    L.text.forEach((t, i) => {
        const yy = L.y + L.row0 + i * L.step;
        g.append("line").attr("x1", L.x + 4).attr("x2", L.x + 24).attr("y1", yy).attr("y2", yy)
            .attr("stroke", rocColors[i]).attr("stroke-width", 1.7);
        g.append("text").attr("x", L.x + 33).attr("y", yy).attr("dy", "0.35em")
            .attr("font-family", SERIF).attr("font-size", L.size).attr("fill", INK).text(t);
    });
}

function aplColor(p) { return d3.interpolateReds(0.45 + 0.55 * p); }
function nonColor(p) { return d3.interpolateGreens(Math.max(0.12, 0.63 - 0.62 * p)); }

function drawStrip(cfg) {
    const g = svg.append("g");
    const x = d3.scaleLinear().domain(cfg.xDomain).range([cfg.left, cfg.right]);
    const y = d3.scaleLinear().domain([0, 1.1]).range([cfg.bottom, cfg.top]);
    const w = cfg.right - cfg.left, h = cfg.bottom - cfg.top;

    g.append("g").attr("transform", `translate(0,${cfg.bottom})`)
        .call(d3.axisBottom(x).tickValues([0, 1, 2]).tickSize(-h).tickFormat(""))
        .call(a => a.select(".domain").remove())
        .selectAll("line").attr("stroke", GRID);
    g.append("g").attr("transform", `translate(${cfg.left},0)`)
        .call(d3.axisLeft(y).tickValues(stripTicks).tickSize(-w).tickFormat(""))
        .call(a => a.select(".domain").remove())
        .selectAll("line").attr("stroke", GRID);
    g.append("rect").attr("x", cfg.left).attr("y", cfg.top).attr("width", w).attr("height", h)
        .attr("fill", "none").attr("stroke", FRAME);

    const non = cfg.non.flatMap((arr, i) => arr.map(d => ({ i, dx: d[0], p: d[1] })));
    const apl = cfg.apl.flatMap((arr, i) => arr.map(d => ({ i, dx: d[0], p: d[1] })));
    g.append("g").selectAll("circle").data(non).join("circle")
        .attr("cx", d => x(d.i + d.dx)).attr("cy", d => y(d.p)).attr("r", 2.8)
        .attr("fill", d => nonColor(d.p)).attr("fill-opacity", 0.88);
    g.append("g").selectAll("circle").data(apl).join("circle")
        .attr("cx", d => x(d.i + d.dx)).attr("cy", d => y(d.p)).attr("r", 2.8)
        .attr("fill", d => aplColor(d.p)).attr("fill-opacity", 0.88);

    g.append("g").selectAll("line").data([0, 1, 2]).join("line")
        .attr("x1", i => x(i - 0.355)).attr("x2", i => x(i + 0.355))
        .attr("y1", y(cfg.threshold)).attr("y2", y(cfg.threshold))
        .attr("stroke", "#000").attr("stroke-width", 1.6);

    g.append("g").attr("transform", `translate(0,${cfg.bottom})`)
        .call(d3.axisBottom(x).tickValues([0, 1, 2]).tickSize(0).tickPadding(5.5).tickFormat(i => stripSets[i]))
        .call(a => styleAxis(a, 13.5));
    g.append("g").attr("transform", `translate(${cfg.left},0)`)
        .call(d3.axisLeft(y).tickValues(stripTicks).tickSize(0).tickPadding(4).tickFormat(d3.format(".1f")))
        .call(a => styleAxis(a, 13.5));

    label(g, cfg.yLabelX, (cfg.top + cfg.bottom) / 2, "APL Probability", 13.5, true);
    label(g, cfg.titleX, 332.7, cfg.title, 17.5).attr("fill", "#000");

    const L = cfg.legend;
    g.append("rect").attr("x", L.x).attr("y", L.y).attr("width", L.w).attr("height", 16).attr("rx", 2)
        .attr("fill", "#fff").attr("fill-opacity", 0.9).attr("stroke", "#d6d6d6");
    L.items.forEach(it => {
        g.append("circle").attr("cx", it.dot).attr("cy", L.y + 8.2).attr("r", 2.1).attr("fill", it.color);
        g.append("text").attr("x", it.text).attr("y", L.y + 8.2).attr("dy", "0.35em")
            .attr("font-family", SERIF).attr("font-size", 7.6).attr("fill", INK).text(it.name);
    });
}

function drawConfusion(cfg) {
    const g = svg.append("g");
    const x = d3.scaleBand().domain(cmLabels).range([cfg.left, cfg.right]);
    const y = d3.scaleBand().domain(cmLabels).range([cfg.top, cfg.bottom]);
    const vals = cfg.matrix.flat();
    const vmin = d3.min(vals), vmax = d3.max(vals);
    const color = d3.scaleSequential(d3.interpolateBlues).domain([vmin, vmax]);
    const cells = cfg.matrix.flatMap((row, r) => row.map((v, c) => ({ r, c, v })));

    g.selectAll("rect.cell").data(cells).join("rect").attr("class", "cell")
        .attr("x", d => x(cmLabels[d.c])).attr("y", d => y(cmLabels[d.r]))
        .attr("width", x.bandwidth()).attr("height", y.bandwidth())
        .attr("fill", d => color(d.v));
    g.selectAll("text.val").data(cells).join("text").attr("class", "val")
        .attr("x", d => x(cmLabels[d.c]) + x.bandwidth() / 2)
        .attr("y", d => y(cmLabels[d.r]) + y.bandwidth() / 2)
        .attr("dy", "0.35em").attr("text-anchor", "middle")
        .attr("font-family", SERIF).attr("font-size", 19)
        .attr("fill", d => d.v > (vmin + vmax) / 2 ? "#f7fbff" : "#08306b")
        .text(d => d.v);
    g.append("rect").attr("x", cfg.left).attr("y", cfg.top)
        .attr("width", cfg.right - cfg.left).attr("height", cfg.bottom - cfg.top)
        .attr("fill", "none").attr("stroke", FRAME).attr("stroke-width", 1.2);

    g.append("g").attr("transform", `translate(0,${cfg.bottom})`)
        .call(d3.axisBottom(x).tickSize(0).tickPadding(11))
        .call(a => styleAxis(a, 16.5));
    g.append("g").attr("transform", `translate(${cfg.left},0)`)
        .call(d3.axisLeft(y).tickSize(0).tickPadding(10))
        .call(a => styleAxis(a, 16.5));

    // colorbar
    const gid = "grad" + cfg.title;
    const grad = defs.append("linearGradient").attr("id", gid)
        .attr("x1", 0).attr("y1", 1).attr("x2", 0).attr("y2", 0);
    d3.range(0, 1.0001, 0.1).forEach(t => {
        grad.append("stop").attr("offset", t).attr("stop-color", d3.interpolateBlues(t));
    });
    const cb = d3.scaleLinear().domain([vmin, vmax]).range([cfg.bottom, cfg.top]);
    g.append("rect").attr("x", cfg.cbX).attr("y", cfg.top).attr("width", cfg.cbW)
        .attr("height", cfg.bottom - cfg.top).attr("fill", `url(#${gid})`)
        .attr("stroke", FRAME);
    g.append("g").attr("transform", `translate(${cfg.cbX + cfg.cbW},0)`)
        .call(d3.axisRight(cb).tickValues(cbTicks).tickSize(5).tickPadding(5))
        .call(a => styleAxis(a, 16))
        .selectAll("line").attr("stroke", "#444");

    label(g, (cfg.left + cfg.right) / 2, 1011, "Predicted Lable", 16);
    label(g, cfg.yLabelX, (cfg.top + cfg.bottom) / 2, "Truth Lable", 16, true);
    label(g, (cfg.left + cfg.right) / 2, 721.5, "Validation Set", 16);
    label(g, cfg.titleX, 696, cfg.title, 18).attr("fill", "#000");
}

drawRoc({
    title: "A", titleX: 187, left: 51.7, right: 366.2, top: 34.3, bottom: 273.3,
    xLabelY: 304, yLabelX: 27.3,
    curves: [rocATrain, rocATest, rocAValid],
    legend: { x: 141.7, y: 215, w: 219, h: 51.7, row0: 11, step: 15.3, size: 10.3, text: rocLegendA }
});
drawRoc({
    title: "B", titleX: 592.7, left: 438.3, right: 755, top: 35, bottom: 278,
    xLabelY: 310, yLabelX: 416.7, clip: "clipB",
    curves: [rocBTrain, rocBTest, rocBValid],
    legend: { x: 529.3, y: 220, w: 220.7, h: 50, row0: 10, step: 16.3, size: 10.6, text: rocLegendB }
});

drawStrip({
    title: "C", titleX: 186.7, left: 34.3, right: 357.7, top: 350.7, bottom: 636,
    xDomain: [-0.475, 2.465], yLabelX: 11.5, threshold: thresholdC,
    apl: [cTrainApl, cTestApl, cValApl], non: [cTrainNon, cTestNon, cValNon],
    legend: { x: 208.3, y: 353.3, w: 136.7, items: [
        { dot: 218.3, text: 231.7, color: "#7a0a16", name: "APL Group" },
        { dot: 288.3, text: 301.7, color: "#55b567", name: "Non-APL Group" }] }
});
drawStrip({
    title: "D", titleX: 593.3, left: 441, right: 764.3, top: 350.7, bottom: 636,
    xDomain: [-0.47, 2.47], yLabelX: 418, threshold: thresholdD,
    apl: [dTrainApl, dTestApl, dValApl], non: [dTrainNon, dTestNon, dValNon],
    legend: { x: 614.3, y: 353.3, w: 145.7, items: [
        { dot: 625, text: 638.7, color: "#e8453c", name: "APL Group" },
        { dot: 694.3, text: 707.7, color: "#74c27c", name: "Non-APL Group" }] }
});

drawConfusion({
    title: "E", titleX: 186.7, left: 52.3, right: 306, top: 729, bottom: 971.7,
    cbX: 325.7, cbW: 12.6, yLabelX: 24, matrix: cmE
});
drawConfusion({
    title: "F", titleX: 580, left: 452.7, right: 706, top: 729, bottom: 971.7,
    cbX: 726, cbW: 12.3, yLabelX: 423.3, matrix: cmF
});
</script>
</body>
</html>
